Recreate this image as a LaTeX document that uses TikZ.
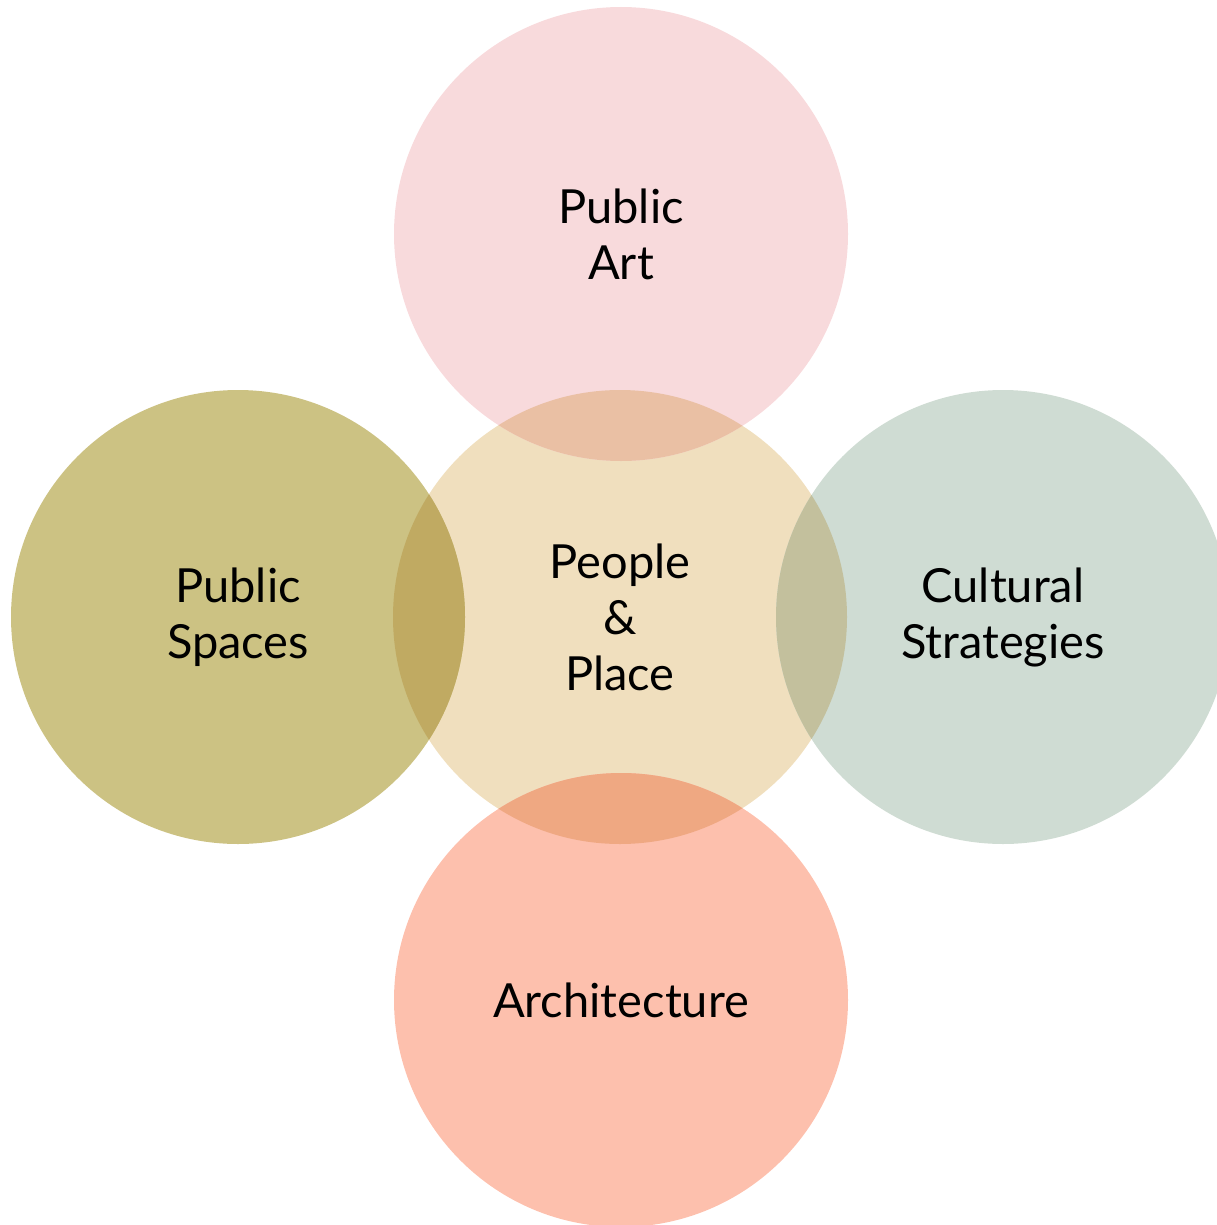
\documentclass[tikz,border=0pt]{standalone}
\usepackage{fontspec}
\setmainfont{Lato}
\definecolor{artpink}{HTML}{F8DADC}
\definecolor{placebeige}{HTML}{F0DFBE}
\definecolor{spaceolive}{HTML}{CCC283}
\definecolor{cultsage}{HTML}{CFDCD3}
\definecolor{archsalmon}{HTML}{FDC0AD}
\definecolor{ovtop}{HTML}{EAC0A4}
\definecolor{ovleft}{HTML}{C0AA62}
\definecolor{ovright}{HTML}{C3C09D}
\definecolor{ovbottom}{HTML}{EFA882}
\begin{document}
\begin{tikzpicture}[x=1pt,y=-1pt,
  bubble/.style={circle, minimum size=454pt, inner sep=0pt, align=center,
    font=\fontsize{47}{56}\selectfont, text=black}]
\useasboundingbox (0,0) rectangle (1216,1225);
\def\R{227}
\node[bubble, fill=placebeige] (place) at (620,617) {\raisebox{-3pt}{People}\\\raisebox{-3pt}{\&}\\\raisebox{-3pt}{Place}};
\node[bubble, fill=artpink] (art) at (621,234) {\raisebox{-3pt}{Public}\\\raisebox{-3pt}{Art}};
\node[bubble, fill=spaceolive] (spaces) at (238,617) {\raisebox{-3pt}{Public}\\\raisebox{-3pt}{Spaces}};
\node[bubble, fill=cultsage] (cult) at (1003,617) {\raisebox{-3pt}{Cultural}\\\raisebox{-3pt}{Strategies}};
\node[bubble, fill=archsalmon] (arch) at (621,1000) {\raisebox{-3pt}{Architecture}};
\begin{scope}
  \clip (place.center) circle (\R);
  \fill[ovtop] (art.center) circle (\R);
  \fill[ovleft] (spaces.center) circle (\R);
  \fill[ovright] (cult.center) circle (\R);
  \fill[ovbottom] (arch.center) circle (\R);
\end{scope}
\end{tikzpicture}
\end{document}
